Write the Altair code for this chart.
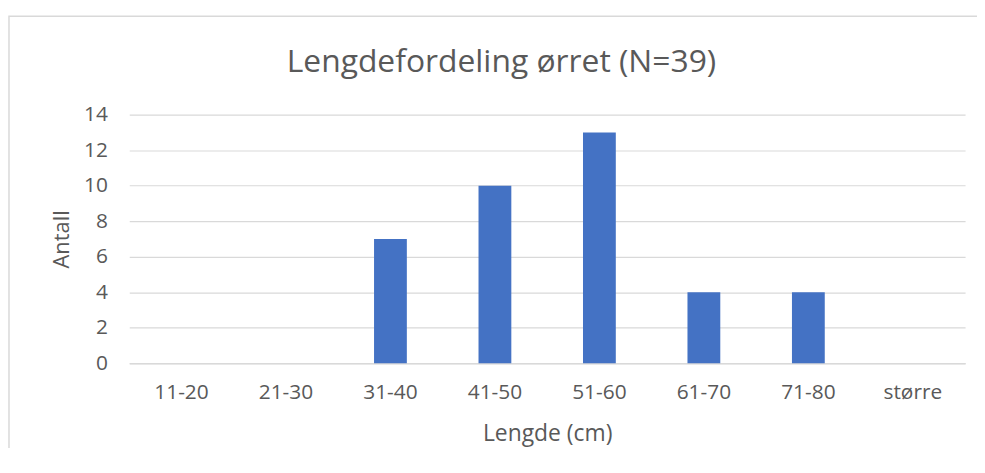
import altair as alt
import pandas as pd

categories = ["11-20", "21-30", "31-40", "41-50", "51-60", "61-70", "71-80", "større"]
counts = [0, 0, 7, 10, 13, 4, 4, 0]
y_ticks = [0, 2, 4, 6, 8, 10, 12, 14]
title_text = "Lengdefordeling ørret (N=39)"

df = pd.DataFrame({"kategori": categories, "antall": counts})
title_df = pd.DataFrame({"t": [title_text]})
one_df = pd.DataFrame({"k": [0]})

FONT = "Open Sans"
GREY = "#595959"

bars = alt.Chart(df).mark_bar(color="#4472C4").encode(
    x=alt.X(
        "kategori:N",
        sort=categories,
        scale=alt.Scale(paddingInner=0.686, paddingOuter=0.343),
        axis=alt.Axis(
            title="Lengde (cm)",
            labelAngle=0,
            labelFont=FONT,
            labelFontSize=21,
            labelColor=GREY,
            labelPadding=19,
            ticks=False,
            grid=False,
            domainColor="#d9d9d9",
            domainWidth=1.5,
            titleFont=FONT,
            titleFontSize=23,
            titleFontWeight="normal",
            titleColor=GREY,
            titleY=71,
            titleBaseline="middle",
        ),
    ),
    y=alt.Y(
        "antall:Q",
        scale=alt.Scale(domain=[0, 14]),
        axis=alt.Axis(
            title="Antall",
            values=y_ticks,
            labelFont=FONT,
            labelFontSize=21,
            labelColor=GREY,
            labelPadding=22,
            ticks=False,
            domain=False,
            gridColor="#d9d9d9",
            gridWidth=1.2,
            titleFont=FONT,
            titleFontSize=22,
            titleFontWeight="normal",
            titleColor=GREY,
            titleX=-68,
            titleBaseline="middle",
            titleAngle=-90,
        ),
    ),
)

# outer chart-area frame (right and bottom edges fall outside the picture)
frame = alt.Chart(one_df).mark_rect(
    fill="transparent", stroke="#d9d9d9", strokeWidth=1.5, clip=False
).encode(
    x=alt.value(-121), x2=alt.value(870), y=alt.value(-99), y2=alt.value(370)
)

title = alt.Chart(title_df).mark_text(
    font=FONT, fontSize=32, color=GREY, align="center", baseline="alphabetic", clip=False
).encode(text="t:N", x=alt.value(374.5), y=alt.value(-43))

chart = alt.layer(frame, bars, title).properties(
    width=841,
    height=250,
    autosize=alt.AutoSizeParams(type="none"),
    padding={"left": 122, "top": 106, "right": 12, "bottom": 84},
).configure(background="white").configure_view(stroke="transparent", strokeWidth=0)

chart.save("out.html", embed_options={"renderer": "svg", "actions": False})
